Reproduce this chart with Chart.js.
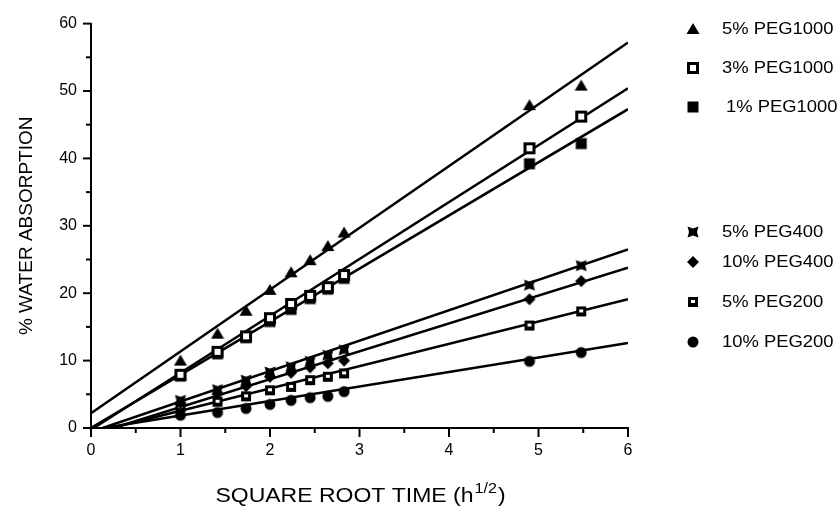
<!DOCTYPE html>
<html>
<head>
<meta charset="utf-8">
<script src="https://cdn.jsdelivr.net/npm/chart.js@4.4.1/dist/chart.umd.min.js"></script>
<style>
  html, body { margin: 0; padding: 0; background: #fff; }
  canvas { display: block; }
</style>
</head>
<body>
<canvas id="absorptionChart" width="837" height="510"></canvas>
<script>
// square root of time (h^1/2): 1..8 h, 24 h, 30 h
const sqrtTime = [1, 1.414, 1.732, 2, 2.236, 2.449, 2.646, 2.828, 4.899, 5.477]

const peg1000_5 = [10.0, 14.0, 17.4, 20.5, 23.1, 24.9, 27.0, 29.0, 47.9, 50.8]
const peg1000_3 = [7.9, 11.3, 13.6, 16.3, 18.4, 19.6, 20.9, 22.7, 41.5, 46.2]
const peg1000_1 = [7.7, 11.0, 13.4, 15.8, 17.6, 19.2, 20.6, 22.2, 39.2, 42.2]
const peg400_5 = [4.1, 5.7, 7.1, 8.3, 9.1, 9.9, 10.8, 11.6, 21.2, 24.1]
const peg400_10 = [3.7, 5.1, 6.2, 7.6, 8.2, 9.0, 9.6, 10.0, 19.1, 21.8]
const peg200_5 = [3.1, 3.9, 4.7, 5.6, 6.1, 7.1, 7.6, 8.1, 15.2, 17.3]
const peg200_10 = [1.9, 2.3, 2.9, 3.5, 4.1, 4.5, 4.7, 5.4, 9.9, 11.2]

const seriesNames = ['5% PEG1000', '3% PEG1000', '1% PEG1000', '5% PEG400', '10% PEG400', '5% PEG200', '10% PEG200']
const seriesValues = [peg1000_5, peg1000_3, peg1000_1, peg400_5, peg400_10, peg200_5, peg200_10]

// fitted lines: start point and value at x = 6
const fitStartX = [0, 0.03, 0, 0.13, 0.25, 0.23, 0.14]
const fitStartY = [2.2, 0, 0, 0, 0, 0, 0]
const fitEndX = 6
const fitEndY = [57.2, 50.4, 47.3, 26.5, 23.8, 19.1, 12.6]

const yTicks = [0, 10, 20, 30, 40, 50, 60]
const xTicks = [0, 1, 2, 3, 4, 5, 6]

const FONT = '"Liberation Sans", Arial, Helvetica, sans-serif'
const STRETCH = 1.15 // the scanned figure is a bit wider than tall

// marker images
function makeMarker(kind) {
  const c = document.createElement('canvas')
  const s = 14
  c.width = s
  c.height = s
  const g = c.getContext('2d')
  g.fillStyle = '#000'
  const m = s / 2
  if (kind === 'tri') {
    g.beginPath()
    g.moveTo(m, 1)
    g.lineTo(s - 0.5, s - 2)
    g.lineTo(0.5, s - 2)
    g.closePath()
    g.fill()
  } else if (kind === 'openSq') {
    g.fillRect(1, 1, 12, 12)
    g.fillStyle = '#fff'
    g.fillRect(4, 4, 6, 6)
  } else if (kind === 'fillSq') {
    g.fillRect(1.5, 1.5, 11, 11)
  } else if (kind === 'bowtie') {
    g.beginPath()
    g.moveTo(1.5, 1.5)
    g.lineTo(m, 3.5)
    g.lineTo(12.5, 1.5)
    g.lineTo(11, m)
    g.lineTo(12.5, 12.5)
    g.lineTo(m, 10.5)
    g.lineTo(1.5, 12.5)
    g.lineTo(3, m)
    g.closePath()
    g.fill()
  } else if (kind === 'diamond') {
    g.beginPath()
    g.moveTo(m, 1)
    g.lineTo(13, m)
    g.lineTo(m, 13)
    g.lineTo(1, m)
    g.closePath()
    g.fill()
  } else if (kind === 'smallSq') {
    g.fillRect(2, 2, 10, 10)
    g.fillStyle = '#fff'
    g.fillRect(5, 5, 4, 3)
  } else if (kind === 'circle') {
    g.beginPath()
    g.arc(m, m, 5.5, 0, Math.PI * 2)
    g.fill()
  }
  return c
}

const markerKinds = ['tri', 'openSq', 'fillSq', 'bowtie', 'diamond', 'smallSq', 'circle']
const markers = markerKinds.map(makeMarker)

const datasets = []
seriesValues.forEach((vals, i) => {
  datasets.push({
    label: seriesNames[i] + ' fit',
    data: [{ x: fitStartX[i], y: fitStartY[i] }, { x: fitEndX, y: fitEndY[i] }],
    showLine: true,
    borderColor: '#000',
    borderWidth: 2.5,
    pointRadius: 0,
    order: 2,
  })
  datasets.push({
    label: seriesNames[i],
    data: vals.map((v, j) => ({ x: sqrtTime[j], y: v })),
    showLine: false,
    pointStyle: markers[i],
    pointRadius: 6,
    order: 1,
  })
})

function stretchedText(ctx, text, x, y) {
  ctx.save()
  ctx.translate(x, y)
  ctx.scale(STRETCH, 1)
  ctx.fillText(text, 0, 0)
  ctx.restore()
}

const decorPlugin = {
  id: 'decor',
  afterDraw(chart) {
    const { ctx, chartArea, scales } = chart
    const x = scales.x
    const y = scales.y
    ctx.save()
    ctx.strokeStyle = '#000'
    ctx.lineWidth = 2

    // y ticks, major every 10, minor every 5
    for (let v = 0; v <= 60; v += 5) {
      const py = y.getPixelForValue(v)
      const len = v % 10 === 0 ? 8 : 5
      ctx.beginPath()
      ctx.moveTo(chartArea.left - len, py)
      ctx.lineTo(chartArea.left, py)
      ctx.stroke()
    }
    // x ticks, major every 1, minor every 0.5
    for (let v = 0; v <= 6; v += 0.5) {
      const px = x.getPixelForValue(v)
      const len = v % 1 === 0 ? 9 : 5
      ctx.beginPath()
      ctx.moveTo(px, chartArea.bottom)
      ctx.lineTo(px, chartArea.bottom + len)
      ctx.stroke()
    }

    // x axis title with superscript
    ctx.fillStyle = '#000'
    ctx.textBaseline = 'alphabetic'
    const main = 'SQUARE ROOT TIME (h'
    const sup = '1/2'
    const close = ')'
    ctx.font = '20px ' + FONT
    const w1 = ctx.measureText(main).width * STRETCH
    const w3 = ctx.measureText(close).width * STRETCH
    ctx.font = '14px ' + FONT
    const w2 = ctx.measureText(sup).width * STRETCH
    const cx = (chartArea.left + chartArea.right) / 2
    let tx = cx - (w1 + w2 + w3) / 2
    const base = 502
    ctx.font = '20px ' + FONT
    stretchedText(ctx, main, tx, base)
    tx += w1 + 1
    ctx.font = '14px ' + FONT
    stretchedText(ctx, sup, tx, base - 9)
    tx += w2 + 1
    ctx.font = '20px ' + FONT
    stretchedText(ctx, close, tx, base)

    // legend
    const rows = [29, 68, 107, 232, 262, 302, 342]
    const textX = [722, 722, 726, 722, 722, 722, 722]
    ctx.font = '16px ' + FONT
    ctx.textBaseline = 'middle'
    seriesNames.forEach((name, i) => {
      const img = markers[i]
      ctx.drawImage(img, 693 - img.width / 2, rows[i] - img.height / 2)
      stretchedText(ctx, name, textX[i], rows[i] + 1)
    })
    ctx.restore()
  },
}

new Chart(document.getElementById('absorptionChart'), {
  type: 'scatter',
  data: { datasets },
  options: {
    responsive: false,
    animation: false,
    layout: { padding: { top: 21, right: 209, left: 0, bottom: 0 } },
    plugins: {
      legend: { display: false },
      tooltip: { enabled: false },
    },
    scales: {
      x: {
        type: 'linear',
        min: 0,
        max: 6,
        border: { color: '#000', width: 2 },
        grid: { display: false, drawTicks: false },
        afterBuildTicks: (s) => { s.ticks = xTicks.map((v) => ({ value: v })) },
        ticks: {
          color: '#000',
          padding: 13,
          font: { family: FONT, size: 16 },
          maxRotation: 0,
        },
        afterFit: (s) => { s.height = 82 },
      },
      y: {
        type: 'linear',
        min: 0,
        max: 60,
        border: { color: '#000', width: 2 },
        grid: { display: false, drawTicks: false },
        afterBuildTicks: (s) => { s.ticks = yTicks.map((v) => ({ value: v })) },
        ticks: {
          color: '#000',
          padding: 14,
          font: { family: FONT, size: 16 },
        },
        title: {
          display: true,
          text: '% WATER ABSORPTION',
          color: '#000',
          font: { family: FONT, size: 19 },
          padding: { top: 15, bottom: 0 },
        },
        afterFit: (s) => { s.width = 91 },
      },
    },
  },
  plugins: [decorPlugin],
})
</script>
</body>
</html>
